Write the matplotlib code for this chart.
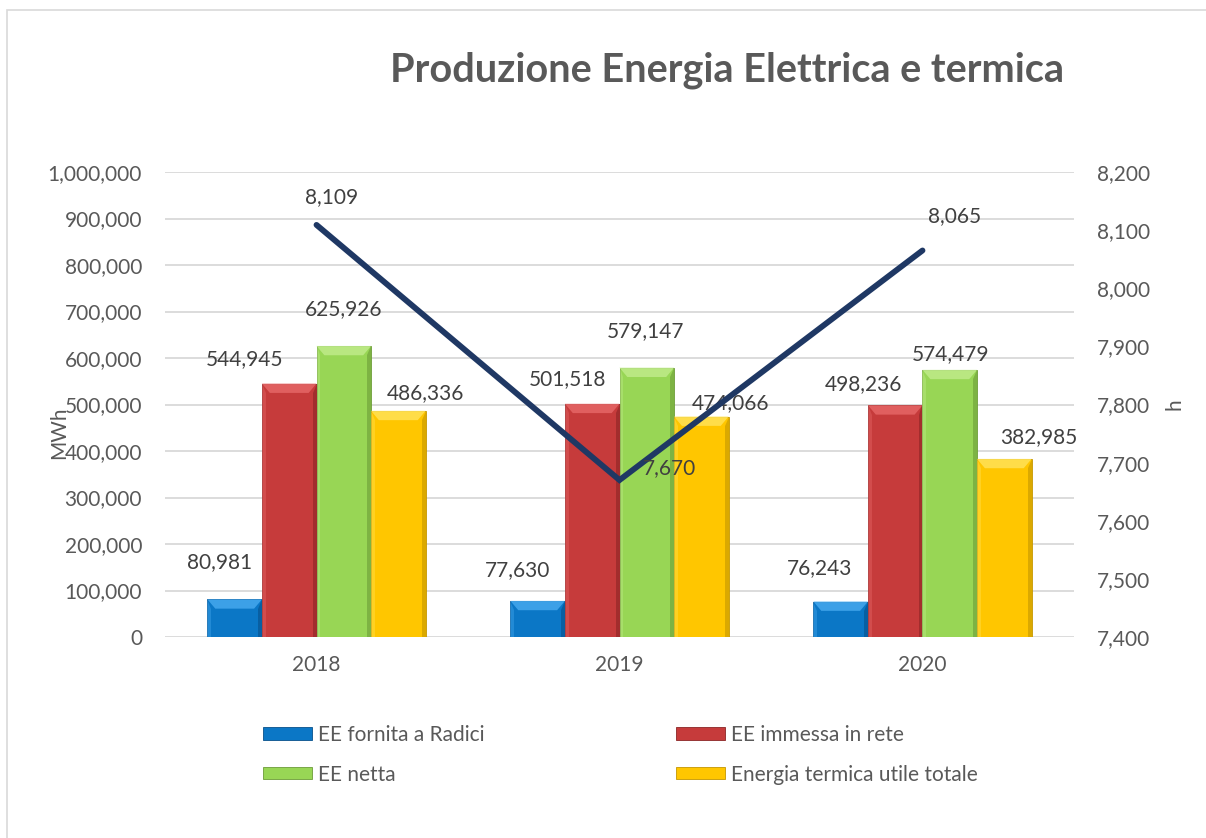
import numpy as np
import matplotlib.pyplot as plt
from matplotlib.patches import Polygon, Rectangle
from matplotlib.ticker import FuncFormatter, MultipleLocator

anni = ['2018', '2019', '2020']
ee_radici = [80981, 77630, 76243]
ee_rete = [544945, 501518, 498236]
ee_netta = [625926, 579147, 574479]
termica = [486336, 474066, 382985]
ore = [8109, 7670, 8065]

serie = ['EE fornita a Radici', 'EE immessa in rete', 'EE netta', 'Energia termica utile totale']
valori = [ee_radici, ee_rete, ee_netta, termica]

# colori: corpo, smusso chiaro, smusso scuro
colori = [('#0B77C6', '#45A8EE', '#07508A'),
          ('#C63B3B', '#E56666', '#8A2525'),
          ('#98D655', '#BFEB8A', '#6C9C38'),
          ('#FFC600', '#FFE257', '#C49600')]

# spostamento etichette (pixel) rispetto alla cima della barra
off_barre = [[(-15, 37), (-20, 31), (-21, 33)],
             [(-45, 25), (-25, 25), (-32, 21)],
             [(0, 37), (-1, 37), (1, 16)],
             [(27, 18), (29, 13), (34, 22)]]
off_linea = [(15, 28), (50, 12), (32, 34)]

grigio = '#595959'
plt.rcParams['font.family'] = ['Lato', 'DejaVu Sans']

fig = plt.figure(figsize=(12.06, 8.38), dpi=100)
ax = fig.add_axes([165 / 1206, 1 - 637 / 838, (1074 - 165) / 1206, (637 - 172) / 838])
ax2 = ax.twinx()

x = np.arange(len(anni))
w = 0.18
shift = [-1.5, -0.5, 0.5, 1.5]

def smussa(r, chiaro, scuro):
    x0, y0 = r.get_x(), r.get_y()
    x1, y1 = x0 + r.get_width(), y0 + r.get_height()
    dx = 0.026
    dy = 20000
    if r.get_height() < 2.5 * dy:
        dy = r.get_height() * 0.3
    top = [(x0, y1), (x1, y1), (x1 - dx, y1 - dy), (x0 + dx, y1 - dy)]
    dx_ = [(x1, y1), (x1, y0), (x1 - dx * 0.5, y0), (x1 - dx * 0.5, y1 - dy)]
    sx = [(x0, y1), (x0, y0), (x0 + dx * 0.5, y0), (x0 + dx * 0.5, y1 - dy)]
    ax.add_patch(Polygon(top, closed=True, color=chiaro, lw=0, zorder=3, alpha=0.85))
    ax.add_patch(Polygon(dx_, closed=True, color=scuro, lw=0, zorder=3, alpha=0.6))
    ax.add_patch(Polygon(sx, closed=True, color=chiaro, lw=0, zorder=3, alpha=0.4))

for i, (nome, vals) in enumerate(zip(serie, valori)):
    body, chiaro, scuro = colori[i]
    bars = ax.bar(x + shift[i] * w, vals, w, color=body, edgecolor=scuro, linewidth=0.6,
                  label=nome, zorder=2)
    for j, r in enumerate(bars):
        smussa(r, chiaro, scuro)
        ax.annotate(f'{vals[j]:,}', (r.get_x() + r.get_width() / 2, vals[j]),
                    xytext=off_barre[i][j], textcoords='offset pixels',
                    ha='center', va='center', fontsize=15, color='#404040', zorder=5)

ax.set_xlim(-0.5, 2.5)
ax.set_ylim(0, 1000000)
ax.yaxis.set_major_locator(MultipleLocator(100000))
ax.yaxis.set_major_formatter(FuncFormatter(lambda v, p: f'{v:,.0f}'))
ax.set_xticks(x)
ax.set_xticklabels(anni)
ax.grid(axis='y', color='#D9D9D9', linewidth=1.3, zorder=0)
ax.set_axisbelow(True)
for s in ax.spines.values():
    s.set_visible(False)
for s in ax2.spines.values():
    s.set_visible(False)
ax.tick_params(axis='both', length=0, labelsize=15, labelcolor=grigio)
ax.tick_params(axis='y', pad=16.5)
ax.tick_params(axis='x', pad=13)
ax.set_ylabel('MWh', fontsize=15, color=grigio)
ax.yaxis.set_label_coords(-96 / 909, 0.44)

ax2.plot(x, ore, color='#1F3864', linewidth=4.2, solid_capstyle='round',
         solid_joinstyle='miter', zorder=4)
for j, v in enumerate(ore):
    ax2.annotate(f'{v:,}', (x[j], v), xytext=off_linea[j], textcoords='offset pixels',
                 ha='center', va='center', fontsize=15, color='#404040', zorder=6)
ax2.set_ylim(7400, 8200)
ax2.yaxis.set_major_locator(MultipleLocator(100))
ax2.yaxis.set_major_formatter(FuncFormatter(lambda v, p: f'{v:,.0f}'))
ax2.tick_params(axis='y', length=0, labelsize=15, labelcolor=grigio, pad=16.5)
ax2.set_ylabel('h', fontsize=15, color=grigio)
ax2.yaxis.set_label_coords(1 + 90 / 909, 0.5)

fig.text(727 / 1206, 1 - 70 / 838, 'Produzione Energia Elettrica e termica',
         ha='center', va='center', fontsize=28.5, fontweight='bold', color=grigio)

# ordine per righe come nell'originale
h, l = ax.get_legend_handles_labels()
ordine = [0, 2, 1, 3]
fig.legend([h[k] for k in ordine], [l[k] for k in ordine], ncol=2, loc='upper left',
           bbox_to_anchor=(244 / 1206, 1 - 706 / 838),
           frameon=False, fontsize=15, handlelength=2.35, handleheight=0.55,
           handletextpad=0.3, columnspacing=9.2, labelspacing=0.95, labelcolor=grigio)

# cornice del grafico
fig.add_artist(Rectangle((7 / 1206, -0.1), 1.2, 1 - 10 / 838 + 0.1, transform=fig.transFigure,
                         fill=False, edgecolor='#D9D9D9', linewidth=1.2))

fig.savefig('out.png', dpi=100)
